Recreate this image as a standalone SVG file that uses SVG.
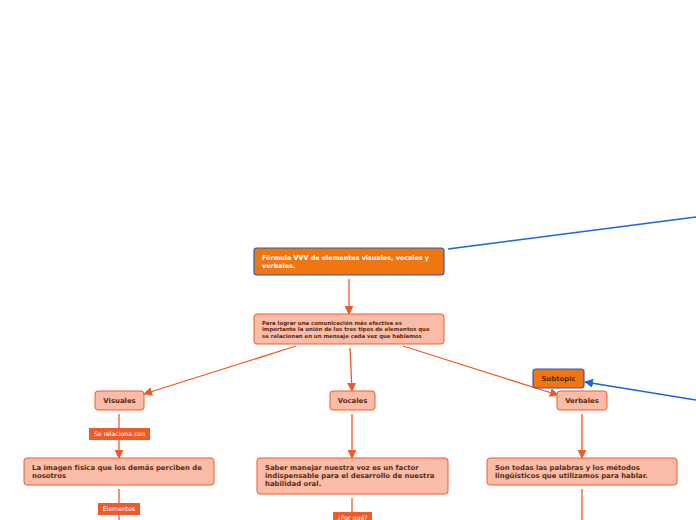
<svg xmlns="http://www.w3.org/2000/svg" width="696" height="520" viewBox="0 0 696 520">
<defs>
<marker id="ao" viewBox="0 0 10 10" refX="9" refY="5" markerWidth="9" markerHeight="9" markerUnits="userSpaceOnUse" orient="auto"><path d="M0,0 L10,5 L0,10 z" fill="#f05a28"/></marker>
<marker id="ab" viewBox="0 0 10 10" refX="9" refY="5" markerWidth="9" markerHeight="9" markerUnits="userSpaceOnUse" orient="auto"><path d="M0,0 L10,5 L0,10 z" fill="#1f64d2"/></marker>
</defs>
<style>
.main{fill:#ef7610;stroke:#1f5fc4;stroke-width:1.2}
.sub{fill:#f9bca8;stroke:#f05a28;stroke-width:1}
.lab{fill:#f15a24}
.co{stroke:#f05a28;stroke-width:1.3;fill:none}
.cb{stroke:#1f64d2;stroke-width:1.4;fill:none}
text{font-family:"DejaVu Sans",Verdana,sans-serif;font-weight:bold}
.tw{fill:#ffffff;font-size:6.4px}
.td{fill:#5a2a0c;font-size:6.9px}
.ts{fill:#5a2a0c;font-size:5.4px}
.tl{fill:#ffffff;font-size:6.2px;font-weight:normal}
</style>
<g id="connectors">
<line class="co" x1="349" y1="279" x2="349" y2="314" marker-end="url(#ao)"/>
<line class="co" x1="296" y1="346" x2="144" y2="394" marker-end="url(#ao)"/>
<line class="co" x1="350" y1="348" x2="352" y2="391" marker-end="url(#ao)"/>
<line class="co" x1="403" y1="346" x2="558" y2="395" marker-end="url(#ao)"/>
<line class="cb" x1="448" y1="249" x2="696" y2="217"/>
<line class="cb" x1="696" y1="400" x2="585" y2="382" marker-end="url(#ab)"/>
<line class="co" x1="119" y1="414" x2="119" y2="428"/>
<line class="co" x1="119" y1="440" x2="119" y2="458" marker-end="url(#ao)"/>
<line class="co" x1="119" y1="489" x2="119" y2="503"/>
<line class="co" x1="119" y1="515" x2="119" y2="520"/>
<line class="co" x1="352" y1="414" x2="352" y2="458" marker-end="url(#ao)"/>
<line class="co" x1="352" y1="498" x2="352" y2="512"/>
<line class="co" x1="582" y1="414" x2="582" y2="458" marker-end="url(#ao)"/>
<line class="co" x1="582" y1="489" x2="582" y2="520"/>
</g>
<g id="n-formula">
<rect class="main" x="254" y="248" width="190" height="27" rx="3"/>
<text class="tw" x="262" y="259.5">Fórmula VVV de elementos visuales, vocales y</text>
<text class="tw" x="262" y="267.5">verbales.</text>
</g>
<g id="n-para">
<rect class="sub" x="254" y="314" width="190" height="30" rx="3"/>
<text class="ts" x="262" y="324.5">Para lograr una comunicación más efectiva es</text>
<text class="ts" x="262" y="331">importante la unión de los tres tipos de elementos que</text>
<text class="ts" x="262" y="337.5">se relacionan en un mensaje cada vez que hablamos</text>
</g>
<g id="n-visuales">
<rect class="sub" x="95" y="391" width="49" height="19" rx="3"/>
<text class="td" x="119.5" y="403" text-anchor="middle">Visuales</text>
</g>
<g id="n-vocales">
<rect class="sub" x="330" y="391" width="45" height="19" rx="3"/>
<text class="td" x="352.5" y="403" text-anchor="middle">Vocales</text>
</g>
<g id="n-verbales">
<rect class="sub" x="557" y="391" width="50" height="19" rx="3"/>
<text class="td" x="582" y="403" text-anchor="middle">Verbales</text>
</g>
<g id="n-subtopic">
<rect class="main" x="533" y="369" width="51" height="19" rx="3"/>
<text class="td" x="558.5" y="381" text-anchor="middle">Subtopic</text>
</g>
<g id="l-serelaciona">
<rect class="lab" x="89" y="428" width="61" height="12"/>
<text class="tl" x="119.5" y="436.2" text-anchor="middle">Se relaciona con</text>
</g>
<g id="n-imagen">
<rect class="sub" x="24" y="458" width="190" height="27" rx="3"/>
<text class="td" x="32" y="469.5">La imagen física que los demás perciben de</text>
<text class="td" x="32" y="477.5">nosotros</text>
</g>
<g id="l-elementos">
<rect class="lab" x="98" y="503" width="42" height="12"/>
<text class="tl" x="119" y="511.2" text-anchor="middle">Elementos</text>
</g>
<g id="n-saber">
<rect class="sub" x="257" y="458" width="191" height="36" rx="3"/>
<text class="td" x="265" y="469.5">Saber manejar nuestra voz es un factor</text>
<text class="td" x="265" y="477.5">indispensable para el desarrollo de nuestra</text>
<text class="td" x="265" y="485.5">habilidad oral.</text>
</g>
<g id="l-porque">
<rect class="lab" x="333" y="512" width="39" height="12"/>
<text class="tl" x="352.5" y="520" text-anchor="middle">¿Por qué?</text>
</g>
<g id="n-son">
<rect class="sub" x="487" y="458" width="190" height="27" rx="3"/>
<text class="td" x="495" y="469.5">Son todas las palabras y los métodos</text>
<text class="td" x="495" y="477.5">lingüísticos que utilizamos para hablar.</text>
</g>
</svg>
